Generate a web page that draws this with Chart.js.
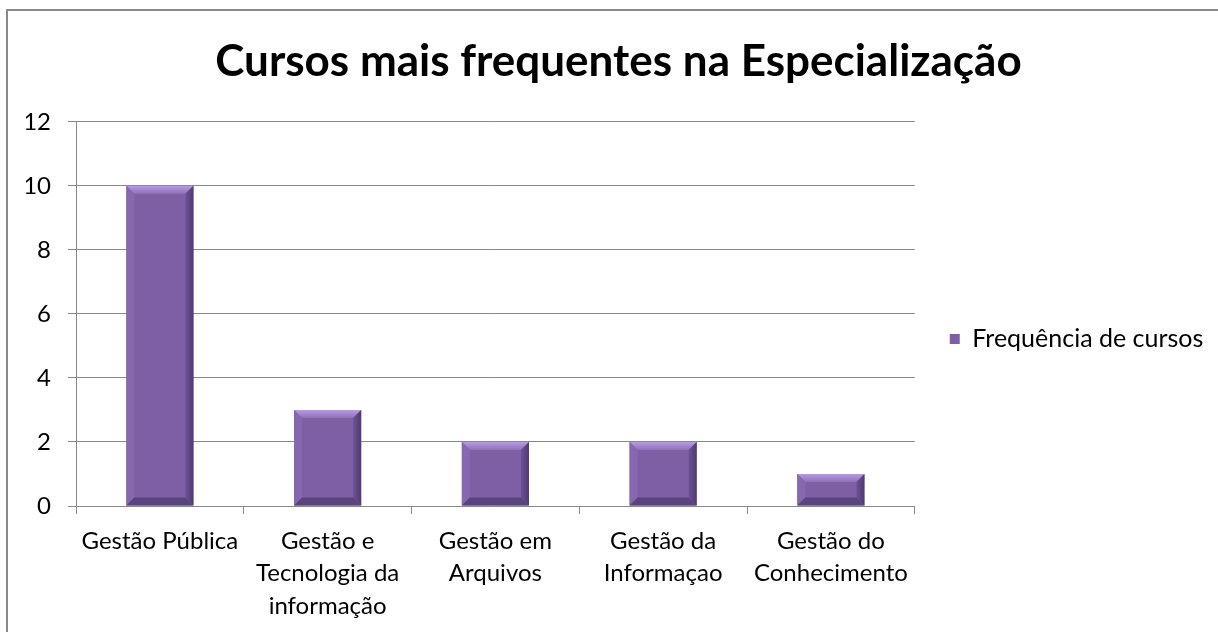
<!DOCTYPE html>
<html lang="pt">
<head>
<meta charset="UTF-8">
<title>Cursos mais frequentes na Especialização</title>
<style>
    body { margin: 0; padding: 0; background: #fff; overflow: hidden; }
    #frame {
        position: absolute; left: 6px; top: 9px; width: 1400px; height: 800px;
        border: 2px solid #898989; box-sizing: border-box;
    }
    #wrap { position: absolute; left: 0; top: 0; width: 1218px; height: 632px; }
</style>
<script src="https://cdn.jsdelivr.net/npm/chart.js"></script>
</head>
<body>
<div id="frame"></div>
<div id="wrap"><canvas id="chart" width="1218" height="632"></canvas></div>
<script>
    const cursos = [
        'Gestão Pública',
        ['Gestão e', 'Tecnologia da', 'informação'],
        ['Gestão em', 'Arquivos'],
        ['Gestão da', 'Informaçao'],
        ['Gestão do', 'Conhecimento']
    ];
    const frequencia = [10, 3, 2, 2, 1];
    const serieNome = 'Frequência de cursos';
    const tituloTexto = 'Cursos mais frequentes na Especialização';

    const roxo = '#7e5fa6';
    const cinza = '#888888';

    // bevel look of the Excel bars
    const bevel = {
        id: 'bevel',
        afterDatasetsDraw(chart) {
            const ctx = chart.ctx;
            chart.getDatasetMeta(0).data.forEach(bar => {
                const p = bar.getProps(['x', 'y', 'base', 'width'], true);
                const l = p.x - p.width / 2, r = p.x + p.width / 2;
                const t = p.y, b = p.base;
                const d = Math.min(8, (b - t) / 3);
                ctx.save();
                const g = ctx.createLinearGradient(0, t, 0, t + d);
                g.addColorStop(0, '#b89be0');
                g.addColorStop(1, '#8f70bb');
                ctx.fillStyle = g;
                ctx.beginPath();
                ctx.moveTo(l, t); ctx.lineTo(r, t); ctx.lineTo(r - d, t + d); ctx.lineTo(l + d, t + d);
                ctx.closePath(); ctx.fill();
                ctx.fillStyle = '#8767b0';
                ctx.beginPath();
                ctx.moveTo(l, t); ctx.lineTo(l + d, t + d); ctx.lineTo(l + d, b - d); ctx.lineTo(l, b);
                ctx.closePath(); ctx.fill();
                const gr = ctx.createLinearGradient(r - d, 0, r, 0);
                gr.addColorStop(0, '#6d5294');
                gr.addColorStop(1, '#4f3a70');
                ctx.fillStyle = gr;
                ctx.beginPath();
                ctx.moveTo(r, t); ctx.lineTo(r, b); ctx.lineTo(r - d, b - d); ctx.lineTo(r - d, t + d);
                ctx.closePath(); ctx.fill();
                ctx.fillStyle = '#5a4480';
                ctx.beginPath();
                ctx.moveTo(l, b); ctx.lineTo(r, b); ctx.lineTo(r - d, b - d); ctx.lineTo(l + d, b - d);
                ctx.closePath(); ctx.fill();
                ctx.restore();
            });
        }
    };

    new Chart(document.getElementById('chart'), {
        type: 'bar',
        data: {
            labels: cursos,
            datasets: [{
                label: serieNome,
                data: frequencia,
                backgroundColor: roxo,
                borderWidth: 0,
                barPercentage: 0.4,
                categoryPercentage: 1
            }]
        },
        options: {
            responsive: false,
            animation: false,
            layout: { padding: { left: 26, right: 7, top: 0, bottom: 0 } },
            plugins: {
                title: {
                    display: true,
                    text: tituloTexto,
                    color: '#000',
                    font: { family: 'Lato', size: 44, weight: 'bold', lineHeight: 1.2 },
                    padding: { top: 35, bottom: 34 }
                },
                legend: {
                    position: 'right',
                    // empty title only pushes the entry down a bit
                    title: { display: true, text: ' ', font: { size: 10, lineHeight: 1 }, padding: { top: 18, bottom: 18 } },
                    labels: {
                        color: '#000',
                        boxWidth: 10,
                        boxHeight: 10,
                        padding: 35,
                        font: { family: 'Lato', size: 25 }
                    }
                },
                tooltip: { enabled: false }
            },
            scales: {
                x: {
                    afterFit(scale) { scale.height = 126; },
                    grid: {
                        display: true, drawOnChartArea: false, offset: true,
                        tickLength: 8, color: cinza, lineWidth: 1
                    },
                    border: { color: cinza, width: 1 },
                    ticks: {
                        color: '#000', padding: 11, maxRotation: 0, autoSkip: false,
                        font: { family: 'Lato', size: 24, lineHeight: 1.35 }
                    }
                },
                y: {
                    min: 0, max: 12,
                    afterFit(scale) { scale.width = 50; },
                    grid: { color: cinza, tickLength: 8, lineWidth: 1 },
                    border: { color: cinza, width: 1 },
                    ticks: {
                        stepSize: 2, color: '#000', padding: 17,
                        font: { family: 'Lato', size: 24 }
                    }
                }
            }
        },
        plugins: [bevel]
    });
</script>
</body>
</html>
